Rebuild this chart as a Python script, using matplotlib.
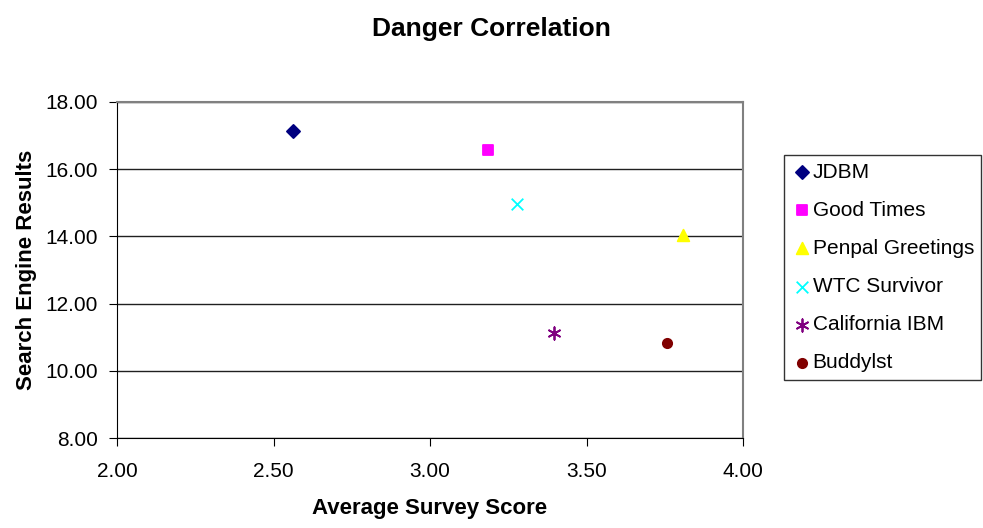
import matplotlib
matplotlib.use("Agg")
import matplotlib.pyplot as plt

plt.rcParams['font.family'] = ['Liberation Sans', 'DejaVu Sans']

names = ['JDBM', 'Good Times', 'Penpal Greetings', 'WTC Survivor', 'California IBM', 'Buddylst']
survey = [2.562, 3.185, 3.808, 3.278, 3.396, 3.757]
results = [17.13, 16.57, 14.03, 14.96, 11.13, 10.84]
markers = ['D', 's', '^', 'x', (6, 2, 0), 'o']
colors = ['#000080', '#FF00FF', '#FFFF00', '#00FFFF', '#800080', '#800000']
sizes = [45, 55, 70, 70, 80, 45]

fig = plt.figure(figsize=(9.83, 5.28), dpi=100)
ax = fig.add_axes([0.119, 0.17, 0.637, 0.637])

for n, x, y, m, c, s in zip(names, survey, results, markers, colors, sizes):
    ax.scatter(x, y, marker=m, color=c, s=s, label=n, zorder=3, linewidths=1.3)

ax.set_xlim(2.0, 4.0)
ax.set_ylim(8.0, 18.0)
ax.set_xticks([2.0, 2.5, 3.0, 3.5, 4.0])
ax.set_yticks([8, 10, 12, 14, 16, 18])
ax.xaxis.set_major_formatter(matplotlib.ticker.FormatStrFormatter('%.2f'))
ax.yaxis.set_major_formatter(matplotlib.ticker.FormatStrFormatter('%.2f'))
ax.grid(axis='y', color='#202020', linewidth=1)
ax.set_axisbelow(True)
ax.spines['top'].set_color('#808080')
ax.spines['right'].set_color('#808080')
ax.spines['top'].set_linewidth(1.5)
ax.spines['right'].set_linewidth(1.5)
ax.tick_params(labelsize=15, direction='out', length=6, pad=8)
ax.tick_params(axis='x', pad=11)

ax.set_xlabel('Average Survey Score', fontsize=16, fontweight='bold', labelpad=12)
ax.set_ylabel('Search Engine Results', fontsize=16, fontweight='bold', labelpad=6)
fig.suptitle('Danger Correlation', fontsize=19, fontweight='bold', y=0.968)

leg = ax.legend(loc='upper left', bbox_to_anchor=(0.798, 0.29, 0.199, 0.416),
                bbox_transform=fig.transFigure, fontsize=15, frameon=True,
                fancybox=False, edgecolor='black', handletextpad=0.0,
                labelspacing=0.92, borderaxespad=0, borderpad=0.35, handlelength=1.0)
leg.get_frame().set_linewidth(1)

fig.savefig('out.png', dpi=100)
